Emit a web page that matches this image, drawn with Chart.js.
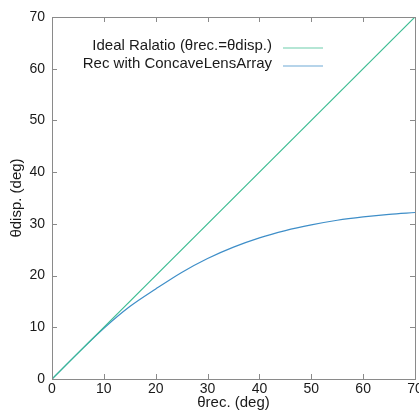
<!DOCTYPE html>
<html>
<head>
<meta charset="utf-8">
<script src="https://cdn.jsdelivr.net/npm/chart.js@4/dist/chart.umd.min.js"></script>
<style>
  html, body { margin: 0; padding: 0; background: #fff; }
  #wrap { width: 419px; height: 413px; }
</style>
</head>
<body>
<div id="wrap"><canvas id="c" width="419" height="413"></canvas></div>
<script>
// data
const idealX = [0, 70];
const idealY = [0, 70];
const recX = [0, 5, 10, 15, 20, 25, 30, 35, 40, 45, 50, 55, 60, 65, 70];
const recY = [0, 5.0, 9.8, 14.0, 17.4, 20.6, 23.3, 25.5, 27.3, 28.7, 29.8, 30.7, 31.35, 31.85, 32.2];
const tickValues = [0, 10, 20, 30, 40, 50, 60, 70];
const seriesNames = ['Ideal Ralatio (\u03b8rec.=\u03b8disp.)', 'Rec with ConcaveLensArray'];

const idealColor = 'rgb(60,188,146)';
const recColor = 'rgb(62,142,200)';
const axisColor = '#8a8a8a';
const fontFam = '"Liberation Sans", Arial, sans-serif';

function toPoints(xs, ys) {
  return xs.map((x, i) => ({ x: x, y: ys[i] }));
}

// box + inward ticks on all four sides, gnuplot style
const frame = {
  id: 'frame',
  afterDatasetsDraw(chart) {
    const { ctx, chartArea: a, scales } = chart;
    ctx.save();
    ctx.strokeStyle = axisColor;
    ctx.lineWidth = 1;
    ctx.strokeRect(a.left + 0.5, a.top + 0.5, a.right - a.left, a.bottom - a.top);
    const len = 5;
    ctx.beginPath();
    tickValues.forEach(v => {
      const x = Math.round(scales.x.getPixelForValue(v)) + 0.5;
      ctx.moveTo(x, a.bottom); ctx.lineTo(x, a.bottom - len);
      ctx.moveTo(x, a.top); ctx.lineTo(x, a.top + len);
      const y = Math.round(scales.y.getPixelForValue(v)) + 0.5;
      ctx.moveTo(a.left, y); ctx.lineTo(a.left + len, y);
      ctx.moveTo(a.right, y); ctx.lineTo(a.right - len, y);
    });
    ctx.stroke();
    ctx.restore();
  }
};

// legend: right-aligned text, line sample on the right
const keyBox = {
  id: 'keyBox',
  afterDraw(chart) {
    const { ctx } = chart;
    const colors = [idealColor, recColor];
    ctx.save();
    ctx.font = '15px ' + fontFam;
    ctx.fillStyle = '#1a1a1a';
    ctx.textAlign = 'right';
    ctx.textBaseline = 'middle';
    seriesNames.forEach((name, i) => {
      const y = 46 + i * 18;
      ctx.fillText(name, 272, y);
      ctx.strokeStyle = colors[i];
      ctx.globalAlpha = 0.75;
      ctx.lineWidth = 1.2;
      ctx.beginPath();
      ctx.moveTo(283, y + 2);
      ctx.lineTo(323, y + 2);
      ctx.stroke();
      ctx.globalAlpha = 1;
    });
    ctx.restore();
  }
};

const ctx = document.getElementById('c').getContext('2d');
new Chart(ctx, {
  type: 'scatter',
  data: {
    datasets: [
      {
        label: seriesNames[0],
        data: toPoints(idealX, idealY),
        showLine: true,
        borderColor: idealColor,
        borderWidth: 1.2,
        pointRadius: 0
      },
      {
        label: seriesNames[1],
        data: toPoints(recX, recY),
        showLine: true,
        cubicInterpolationMode: 'monotone',
        borderColor: recColor,
        borderWidth: 1.2,
        pointRadius: 0
      }
    ]
  },
  options: {
    responsive: false,
    animation: false,
    layout: { padding: { top: 17, right: 4, left: 0, bottom: 0 } },
    plugins: { legend: { display: false }, tooltip: { enabled: false } },
    scales: {
      x: {
        type: 'linear',
        min: 0, max: 70,
        afterBuildTicks: s => { s.ticks = tickValues.map(v => ({ value: v })); },
        afterFit: s => { s.height = 34; s.paddingLeft = 0; s.paddingRight = 0; },
        grid: { display: false, drawTicks: false },
        border: { display: false },
        ticks: { color: '#1a1a1a', font: { family: fontFam, size: 14 }, padding: 2, maxRotation: 0 },
        title: { display: true, text: '\u03b8rec. (deg)', color: '#1a1a1a', font: { family: fontFam, size: 15 }, padding: { top: 0, bottom: 1 } }
      },
      y: {
        type: 'linear',
        min: 0, max: 70,
        afterBuildTicks: s => { s.ticks = tickValues.map(v => ({ value: v })); },
        afterFit: s => { s.width = 52; s.paddingTop = 0; s.paddingBottom = 0; },
        grid: { display: false, drawTicks: false },
        border: { display: false },
        ticks: { color: '#1a1a1a', font: { family: fontFam, size: 14 }, padding: 7 },
        title: { display: true, text: '\u03b8disp. (deg)', color: '#1a1a1a', font: { family: fontFam, size: 15 }, padding: { top: 8, bottom: 0 } }
      }
    }
  },
  plugins: [frame, keyBox]
});
</script>
</body>
</html>
